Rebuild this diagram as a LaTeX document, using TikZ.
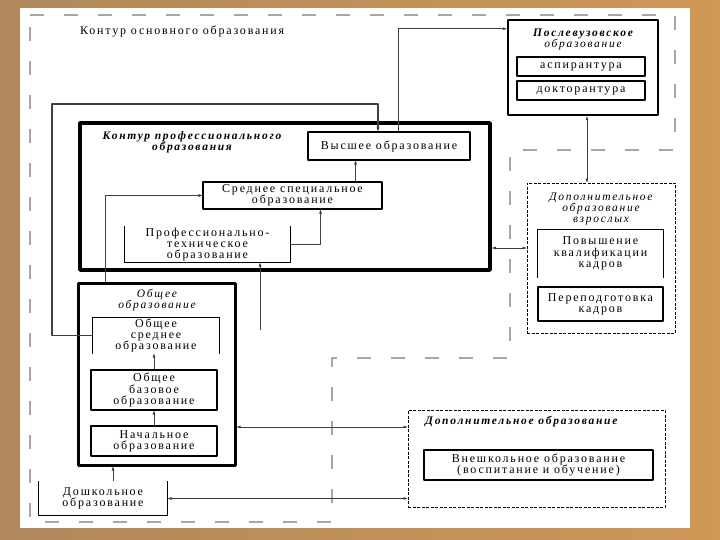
\documentclass[tikz,border=0pt]{standalone}
\usepackage{fontspec}
\setmainfont{Liberation Serif}[LetterSpace=15]
\usetikzlibrary{arrows.meta}

\tikzset{
  box/.style={draw,line width=1.1pt,align=center,inner sep=0pt,font=\fontsize{12}{11.3}\selectfont},
  openbox/.style={box,draw=none},
  frame/.style={draw,line width=3pt},
  dframe/.style={draw,line width=0.9pt,dash pattern=on 3pt off 1.5pt},
  ttl/.style={align=center,inner sep=0pt,font=\fontsize{11.5}{11}\selectfont\itshape},
  link/.style={line width=0.6pt,draw=black!75},
}
\newcommand\opentop[1]{\draw[line width=1.1pt] (#1.north west) -- (#1.south west) -- (#1.south east) -- (#1.north east);}
\newcommand\openbot[1]{\draw[line width=1.1pt] (#1.south west) -- (#1.north west) -- (#1.north east) -- (#1.south east);}

\begin{document}
\begin{tikzpicture}[x=1pt,y=-1pt,line join=round,>={Triangle[length=4pt,width=2.6pt]}]
\useasboundingbox (0,0) rectangle (720,540);
\fill[left color={rgb,255:red,176;green,136;blue,92},right color={rgb,255:red,206;green,152;blue,86}] (0,0) rectangle (720,540);
\fill[white] (20,8) rectangle (690,528);

% outer contour
\draw[gray!70,line width=1.3pt,dash pattern=on 14pt off 20pt]
  (30,15) -- (675,15) -- (675,150) -- (510,150) -- (510,358) -- (332,358) -- (332,522) -- (30,522) -- cycle;
\node[anchor=west,inner sep=0pt,font=\fontsize{12}{11}\selectfont] (main) at (80,32) {Контур основного образования};

% postgraduate
\node[frame,line width=2.5pt,minimum width=150,minimum height=95] (post) at (583,67.5) {};
\node[ttl] (postttl) at (583,39) {\bfseries Послевузовское\\образование};
\node[box,minimum width=128,minimum height=19] (asp) at (581,66.5) {аспирантура};
\node[box,minimum width=128,minimum height=19] (doc) at (581,90.5) {докторантура};

% professional contour
\node[frame,line width=3.5pt,minimum width=410,minimum height=147] (prof) at (285,196.5) {};
\node[ttl] (profttl) at (192,142) {\bfseries Контур профессионального\\\bfseries образования};
\node[box,minimum width=162,minimum height=28] (vys) at (389,146) {Высшее образование};
\node[box,minimum width=179,minimum height=27] (ssp) at (292.5,195.5) {Среднее специальное\\образование};
\node[openbox,minimum width=165,minimum height=35] (pt) at (207.5,244.5) {Профессионально-\\техническое\\образование};
\opentop{pt}

% general contour
\node[frame,minimum width=157,minimum height=182] (obsh) at (156.5,374) {};
\node[ttl] (obshttl) at (157,300) {Общее\\образование};
\node[openbox,minimum width=126,minimum height=35] (osr) at (156,335.5) {Общее\\среднее\\образование};
\openbot{osr}
\node[box,minimum width=126,minimum height=40] (oba) at (154,390) {Общее\\базовое\\образование};
\node[box,minimum width=126,minimum height=30] (nach) at (154,441) {Начальное\\образование};
\node[openbox,minimum width=128,minimum height=33] (dosh) at (103,498.5) {Дошкольное\\образование};
\opentop{dosh}

% adult education
\node[dframe,minimum width=148,minimum height=150] (dvz) at (601,258) {};
\node[ttl] (dvzttl) at (601,208.5) {Дополнительное\\образование\\взрослых};
\node[openbox,minimum width=125,minimum height=47] (pov) at (600.5,253.5) {Повышение\\квалификации\\кадров};
\openbot{pov}
\node[box,minimum width=125,minimum height=34] (per) at (600.5,304) {Переподготовка\\кадров};

% additional education
\node[dframe,minimum width=257,minimum height=97] (dop) at (536.5,458.5) {};
\node[ttl,anchor=west] (dopttl) at (425,422) {\bfseries Дополнительное образование};
\node[box,minimum width=229,minimum height=30] (vne) at (538.5,465) {Внешкольное образование\\(воспитание и обучение)};

% links
\draw[link,line width=1.3pt,->] (osr.west) -| (52,104) -| ([xshift=-11pt]vys.north);
\draw[link,->] ([xshift=9pt]vys.north) |- ([yshift=-10pt]post.north west);
\draw[link,->] ([xshift=-27pt]ssp.north east) coordinate (s1) -- (s1 |- vys.south);
\draw[link,->] (pt.east) -| ([xshift=-62pt]ssp.south east);
\draw[link,->] ([xshift=-51.5pt]obsh.north) |- (ssp.west);
\coordinate (c2) at (260,330);
\draw[link,->] (c2) -- (c2 |- pt.south);
\draw[link,<->] ([yshift=10pt]dvz.west) coordinate (s2) -- (s2 -| prof.east);
\draw[link,<->] ([xshift=4pt]post.south) coordinate (s3) -- (s3 |- dvz.north);
\draw[link,->] (nach.north) -- (oba.south);
\draw[link,->] (oba.north) -- (oba.north |- osr.south);
\draw[link,->] ([xshift=10pt]dosh.north) coordinate (s4) -- (s4 |- obsh.south);
\draw[link,<->] ([yshift=31.5pt]dop.west) coordinate (s5) -- (s5 -| obsh.east);
\draw[link,<->] (dosh.east) -- (dosh.east -| dop.west);

\end{tikzpicture}
\end{document}
